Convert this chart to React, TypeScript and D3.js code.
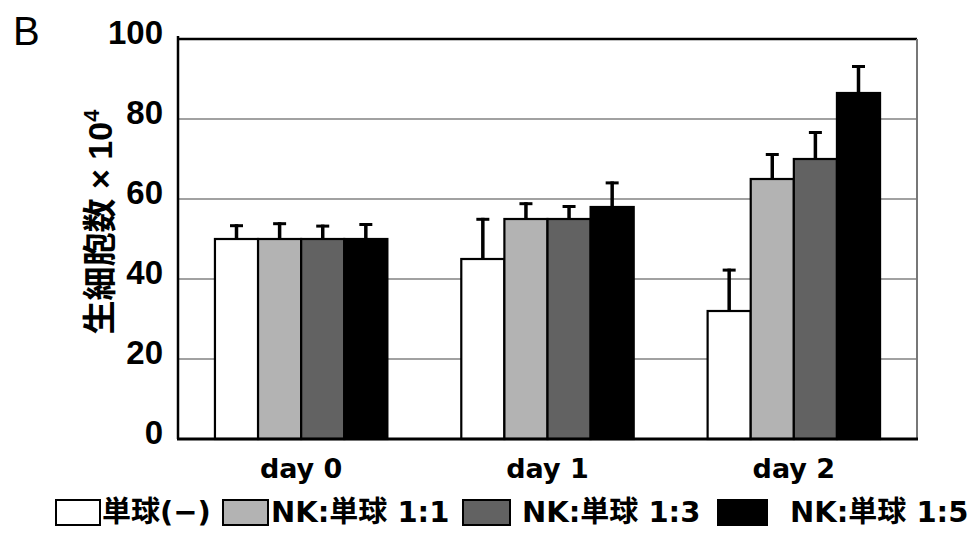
import * as d3 from "d3";
import React, { useEffect, useRef } from "react";

// days on the x axis
const days = ["day 0", "day 1", "day 2"];
// series (legend order)
const seriesNames = ["単球(−)", "NK:単球 1:1", "NK:単球 1:3", "NK:単球 1:5"];
const seriesColors = ["#ffffff", "#b3b3b3", "#626262", "#000000"];
// mean live cells (x10^4) per series, one value per day
const monoOnly = [50, 45, 32];
const nk11 = [50, 55, 65];
const nk13 = [50, 55, 70];
const nk15 = [50, 58, 86.5];
// upper error bars
const monoOnlyErr = [3.7, 10.3, 10.6];
const nk11Err = [4.2, 4.2, 6.5];
const nk13Err = [3.6, 3.5, 7];
const nk15Err = [4, 6.4, 7];
const yTicks = [0, 20, 40, 60, 80, 100];

const LATIN = "'Liberation Sans', Arial, 'Noto Sans CJK JP', sans-serif";
const WIDE = "'DejaVu Sans', 'Noto Sans CJK JP', sans-serif";
const CJK = "'Noto Sans CJK JP', sans-serif";

const App = () => {
  const svgRef = useRef<SVGSVGElement>(null);

  useEffect(() => {
    const svg = d3.select(svgRef.current);
    svg.selectAll("*").remove();

    const W = 972;
    const H = 536;
    const margin = { top: 39, right: 55, bottom: 97, left: 178 };
    const width = W - margin.left - margin.right;
    const height = H - margin.top - margin.bottom;

    svg.attr("width", W).attr("height", H);
    svg.append("rect").attr("width", W).attr("height", H).attr("fill", "#fff");

    const g = svg
      .append("g")
      .attr("transform", `translate(${margin.left},${margin.top})`);

    const values = [monoOnly, nk11, nk13, nk15];
    const errs = [monoOnlyErr, nk11Err, nk13Err, nk15Err];

    const x0 = d3
      .scaleBand()
      .domain(days)
      .range([0, width])
      .paddingInner(0.3)
      .paddingOuter(0.15);
    const x1 = d3
      .scaleBand()
      .domain(seriesNames)
      .range([0, x0.bandwidth()])
      .padding(0);
    const y = d3.scaleLinear().domain([0, 100]).range([height, 0]);

    // gridlines
    g.selectAll(".grid")
      .data(yTicks.filter((t) => t > 0 && t < 100))
      .join("line")
      .attr("x1", 0)
      .attr("x2", width)
      .attr("y1", (d) => y(d))
      .attr("y2", (d) => y(d))
      .attr("stroke", "#444")
      .attr("stroke-width", 1.2);

    // frame: top and right
    g.append("line")
      .attr("x1", 0)
      .attr("x2", width)
      .attr("y1", y(100))
      .attr("y2", y(100))
      .attr("stroke", "#000")
      .attr("stroke-width", 2.5);
    g.append("line")
      .attr("x1", width)
      .attr("x2", width)
      .attr("y1", y(100))
      .attr("y2", y(0))
      .attr("stroke", "#777")
      .attr("stroke-width", 2);

    // bars + error bars
    seriesNames.forEach((s, si) => {
      days.forEach((day, di) => {
        const v = values[si][di];
        const bx = (x0(day) as number) + (x1(s) as number);
        const bw = x1.bandwidth();
        const cx = bx + bw / 2;
        const top = y(v + errs[si][di]);

        g.append("line")
          .attr("x1", cx)
          .attr("x2", cx)
          .attr("y1", y(v))
          .attr("y2", top)
          .attr("stroke", "#000")
          .attr("stroke-width", 3.5);
        g.append("line")
          .attr("x1", cx - 6.5)
          .attr("x2", cx + 6.5)
          .attr("y1", top + 1.5)
          .attr("y2", top + 1.5)
          .attr("stroke", "#000")
          .attr("stroke-width", 3);

        g.append("rect")
          .attr("x", bx)
          .attr("y", y(v))
          .attr("width", bw)
          .attr("height", y(0) - y(v))
          .attr("fill", seriesColors[si])
          .attr("stroke", "#000")
          .attr("stroke-width", 2.2);
      });
    });

    // axes lines
    g.append("line")
      .attr("x1", 0)
      .attr("x2", 0)
      .attr("y1", y(100) - 3)
      .attr("y2", y(0))
      .attr("stroke", "#000")
      .attr("stroke-width", 2.5);
    g.append("line")
      .attr("x1", -1)
      .attr("x2", width + 1)
      .attr("y1", y(0))
      .attr("y2", y(0))
      .attr("stroke", "#000")
      .attr("stroke-width", 3);

    // y tick labels
    g.selectAll(".ytick")
      .data(yTicks)
      .join("text")
      .attr("x", -15)
      .attr("y", (d) => y(d) + 4.5)
      .attr("text-anchor", "end")
      .attr("font-family", LATIN)
      .attr("font-weight", "bold")
      .attr("font-size", 33)
      .text((d) => d);

    // x labels
    g.selectAll(".xlab")
      .data(days)
      .join("text")
      .attr("x", (d) => (x0(d) as number) + x0.bandwidth() / 2)
      .attr("y", height + 39)
      .attr("text-anchor", "middle")
      .attr("font-family", WIDE)
      .attr("font-weight", "bold")
      .attr("font-size", 27)
      .text((d) => d);

    // y title
    const yt = svg
      .append("text")
      .attr("transform", "translate(112,222) rotate(-90)")
      .attr("text-anchor", "middle")
      .attr("font-weight", "bold")
      .attr("font-size", 34);
    yt.append("tspan").attr("font-family", CJK).text("生細胞数");
    yt.append("tspan").attr("font-family", LATIN).text(" × 10");
    yt.append("tspan")
      .attr("font-family", LATIN)
      .attr("font-size", 22)
      .attr("dy", -13)
      .text("4");

    // panel letter
    svg
      .append("text")
      .attr("x", 13)
      .attr("y", 45)
      .attr("font-family", LATIN)
      .attr("font-size", 40)
      .text("B");

    // legend
    const legendBoxX = [56, 223, 463, 718];
    const legendBoxW = [44, 45, 47, 49];
    const legendTextX = [102, 271, 522, 790];
    seriesNames.forEach((s, i) => {
      svg
        .append("rect")
        .attr("x", legendBoxX[i])
        .attr("y", 500)
        .attr("width", legendBoxW[i])
        .attr("height", 25)
        .attr("fill", seriesColors[i])
        .attr("stroke", "#000")
        .attr("stroke-width", 2);
      svg
        .append("text")
        .attr("x", legendTextX[i])
        .attr("y", 522)
        .attr("font-family", WIDE)
        .attr("font-weight", "bold")
        .attr("font-size", 29)
        .text(s);
    });
  }, []);

  return (
    <svg
      ref={svgRef}
      style={{ position: "absolute", left: 0, top: 0, display: "block" }}
    ></svg>
  );
};

export default App;
